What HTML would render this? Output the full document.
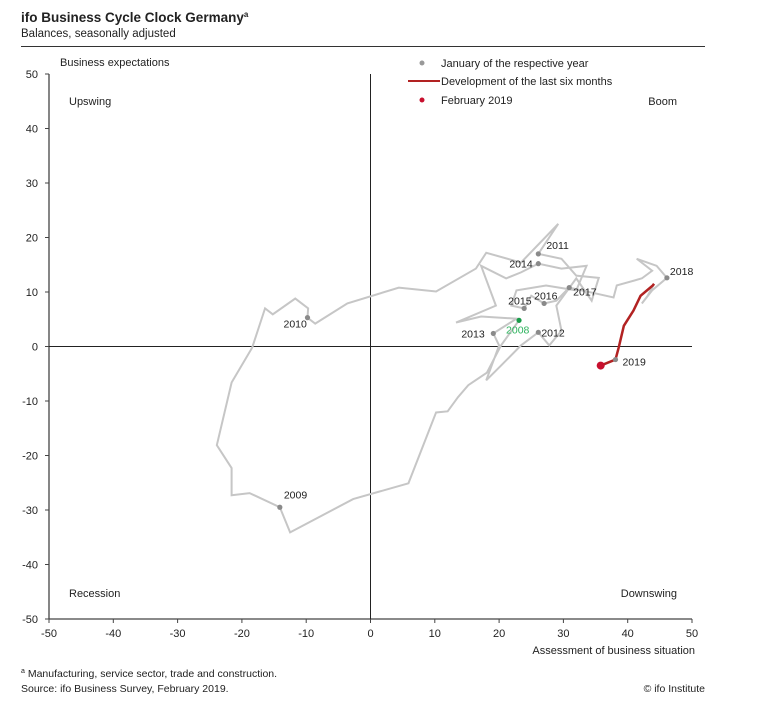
<!DOCTYPE html>
<html><head><meta charset="utf-8"><style>
body{margin:0;background:#fff;}
svg text{font-family:"Liberation Sans",sans-serif;fill:#222;}
</style></head><body>
<svg width="757" height="703" viewBox="0 0 757 703" xmlns="http://www.w3.org/2000/svg">
<text x="21" y="22" font-size="13.5" font-weight="bold">ifo Business Cycle Clock Germany<tspan font-size="8" dy="-5">a</tspan></text>
<text x="21" y="37" font-size="11.5">Balances, seasonally adjusted</text>
<line x1="21" y1="46.5" x2="705" y2="46.5" stroke="#333" stroke-width="1"/>
<g id="axes"></g>
<g id="plot"></g>
<text x="60" y="66" font-size="11">Business expectations</text>
<text x="695" y="654" font-size="11" text-anchor="end">Assessment of business situation</text>
<text x="69" y="105" font-size="11">Upswing</text>
<text x="677" y="105" font-size="11" text-anchor="end">Boom</text>
<text x="69" y="597" font-size="11">Recession</text>
<text x="677" y="597" font-size="11" text-anchor="end">Downswing</text>
<g>
<circle cx="422" cy="63" r="2.5" fill="#999"/>
<text x="441" y="67" font-size="11">January of the respective year</text>
<line x1="408" y1="81" x2="440" y2="81" stroke="#b22222" stroke-width="2"/>
<text x="441" y="85" font-size="11">Development of the last six months</text>
<circle cx="422" cy="100" r="2.5" fill="#c8102e"/>
<text x="441" y="104" font-size="11">February 2019</text>
</g>
<text x="21" y="677" font-size="10.5"><tspan font-size="7" dy="-4">a</tspan><tspan dy="4"> Manufacturing, service sector, trade and construction.</tspan></text>
<text x="21" y="692" font-size="10.5">Source: ifo Business Survey, February 2019.</text>
<text x="705" y="692" font-size="10.5" text-anchor="end">© ifo Institute</text>
</svg>
<script>
const xTicks=[-50,-40,-30,-20,-10,0,10,20,30,40,50];
const yTicks=[50,40,30,20,10,0,-10,-20,-30,-40,-50];
const grayX=[23.1,20.3,18.1,15.2,13.6,12.0,10.2,5.9,-2.7,-12.5,-14.1,-18.8,-21.6,-21.6,-23.9,-21.6,-18.4,-16.4,-15.2,-11.7,-9.7,-9.8,-8.6,-3.6,4.4,10.2,16.4,18.0,23.4,29.2,26.1,29.7,32.0,35.5,34.4,32.0,28.9,29.7,27.8,26.1,23.4,20.3,18.0,20.0,19.1,22.7,17.2,13.3,19.5,17.2,21.1,23.4,26.1,29.7,33.6,32.0,27.3,22.7,21.9,23.9,25.0,27.0,28.9,30.9,34.4,37.8,38.3,42.2,43.8,41.4,44.5,46.1,43.8,42.2,43.1,44.1];
const grayY=[4.8,0.2,-4.8,-7.1,-9.3,-11.9,-12.1,-25.1,-28.0,-34.1,-29.5,-26.9,-27.3,-22.3,-18.1,-6.6,-0.2,7.0,5.9,8.8,7.0,5.3,4.2,7.9,10.8,10.1,14.3,17.2,15.4,22.5,17.0,16.1,13.0,12.6,8.4,12.5,7.5,2.9,0.2,2.6,0.2,-3.5,-6.2,0.2,2.4,5.1,5.5,4.4,7.5,14.8,12.5,13.6,15.2,14.3,14.8,10.3,11.2,10.3,7.5,7.0,9.3,7.9,8.4,10.8,9.9,9.0,11.2,12.5,13.9,16.1,14.8,12.6,10.3,7.9,9.3,11.5];
const redX=[44.1,43.9,42.0,40.9,39.4,38.6,38.1,35.8];
const redY=[11.5,11.2,9.3,6.6,3.8,-0.2,-2.4,-3.5];
const janLabels=["2009","2010","2011","2012","2013","2014","2015","2016","2017","2018","2019"];
const janX=[-14.1,-9.8,26.1,26.1,19.1,26.1,23.9,27.0,30.9,46.1,38.1];
const janY=[-29.5,5.3,17.0,2.6,2.4,15.2,7.0,7.9,10.8,12.6,-2.4];
const janDx=[4,-24,8,3,-32,-29,-16,-10,4,3,7];
const janDy=[-9,10,-5,4,4,4,-4,-4,8,-3,6];
const greenPt=[23.1,4.8];
const febPt=[35.8,-3.5];
const X0=49,X1=692,Y0=74,Y1=619;
const sx=v=>X0+(v+50)/100*(X1-X0);
const sy=v=>Y0+(50-v)/100*(Y1-Y0);
const NS="http://www.w3.org/2000/svg";
function mk(tag,attrs,parent){const e=document.createElementNS(NS,tag);for(const k in attrs)e.setAttribute(k,attrs[k]);parent.appendChild(e);return e;}
const axes=document.getElementById('axes'),plot=document.getElementById('plot');
let e;
e=mk('line',{x1:X0,y1:Y0,x2:X0,y2:Y1,stroke:'#444','stroke-width':1.3},axes);


e=mk('line',{x1:X0,y1:Y1,x2:X1,y2:Y1,stroke:'#444','stroke-width':1.3},axes);


e=mk('line',{x1:sx(0),y1:Y0,x2:sx(0),y2:Y1,stroke:'#222','stroke-width':1},axes);


e=mk('line',{x1:X0,y1:sy(0),x2:X1,y2:sy(0),stroke:'#222','stroke-width':1},axes);


xTicks.forEach(v=>{
 e=mk('line',{x1:sx(v),y1:Y1,x2:sx(v),y2:Y1+4,stroke:'#444'},axes);
 
 
 e=mk('text',{x:sx(v),y:Y1+18,'font-size':11,'text-anchor':'middle'},axes);
 e.textContent=v;
 
 
});
yTicks.forEach(v=>{
 e=mk('line',{x1:X0-4,y1:sy(v),x2:X0,y2:sy(v),stroke:'#444'},axes);
 
 
 e=mk('text',{x:X0-11,y:sy(v)+4,'font-size':11,'text-anchor':'end'},axes);
 e.textContent=v;
 
 
});
e=mk('polyline',{points:grayX.map((v,i)=>sx(v)+','+sy(grayY[i])).join(' '),fill:'none',stroke:'#c6c6c6','stroke-width':2,'stroke-linejoin':'miter'},plot);


e=mk('polyline',{points:redX.map((v,i)=>sx(v)+','+sy(redY[i])).join(' '),fill:'none',stroke:'#b22222','stroke-width':2.5},plot);


janLabels.forEach((l,i)=>{
 e=mk('circle',{cx:sx(janX[i]),cy:sy(janY[i]),r:2.6,fill:'#8a8a8a'},plot);
 
 
 e=mk('text',{x:sx(janX[i])+janDx[i],y:sy(janY[i])+janDy[i],'font-size':10.5},plot);
 e.textContent=l;
 
 
});
e=mk('circle',{cx:sx(greenPt[0]),cy:sy(greenPt[1]),r:2.6,fill:'#1a9c4a'},plot);


e=mk('text',{x:sx(greenPt[0])-13,y:sy(greenPt[1])+13,'font-size':10.5,style:'fill:#2db35d'},plot);
e.textContent='2008';


e=mk('circle',{cx:sx(febPt[0]),cy:sy(febPt[1]),r:4,fill:'#c8102e'},plot);


</script>
</body></html>
